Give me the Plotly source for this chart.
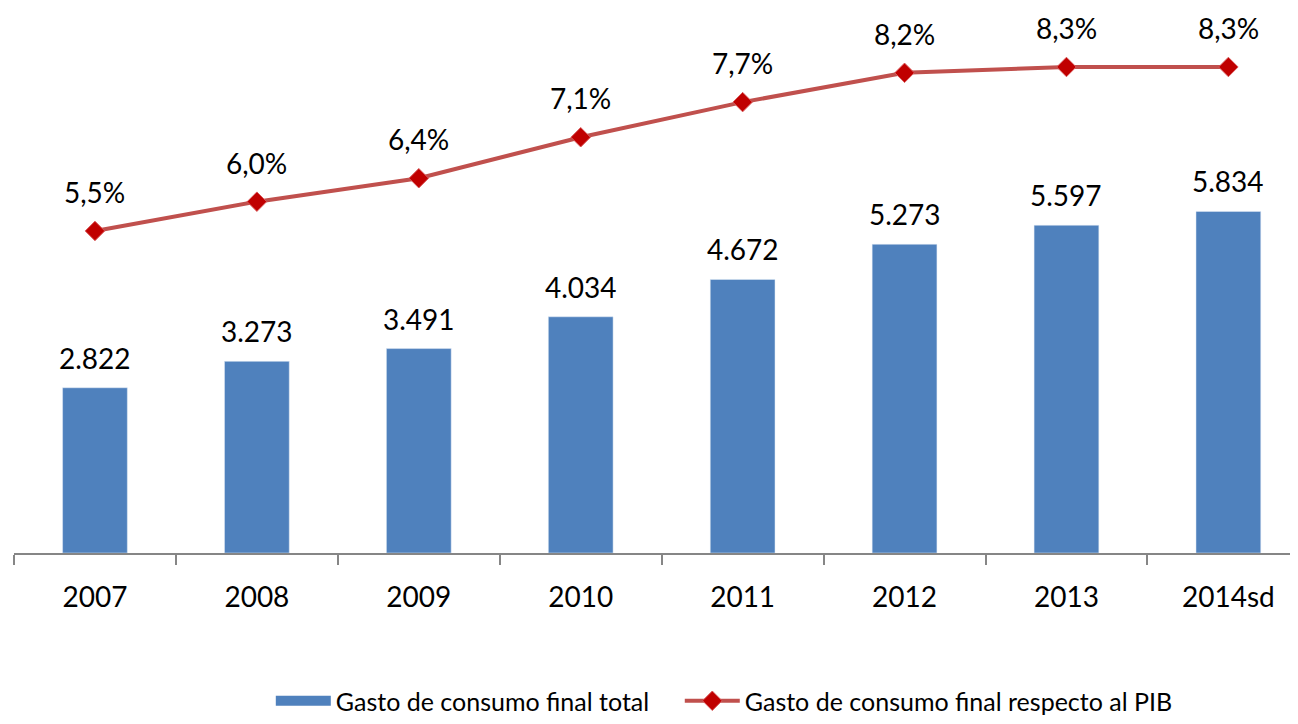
import plotly.graph_objects as go

years = ["2007", "2008", "2009", "2010", "2011", "2012", "2013", "2014sd"]
gasto_total = [2822, 3273, 3491, 4034, 4672, 5273, 5597, 5834]
gasto_pib = [5.5, 6.0, 6.4, 7.1, 7.7, 8.2, 8.3, 8.3]

bar_labels = [f"{v:,}".replace(",", ".") for v in gasto_total]
pib_labels = [f"{v:.1f}%".replace(".", ",") for v in gasto_pib]

font_name = "Lato, Open Sans, sans-serif"
blue = "#4F81BD"
red = "#C0504D"

fig = go.Figure()
fig.add_trace(go.Bar(
    x=years, y=gasto_total, name="Gasto de consumo final total",
    marker=dict(color=blue), width=0.4, showlegend=False,
))
# legend entry drawn as a wide block, like the original (nbsp = gap to next entry)
fig.add_trace(go.Scatter(
    x=[None], y=[None], name="Gasto de consumo final total" + "\u00a0" * 4, mode="lines",
    line=dict(color=blue, width=16),
))
fig.add_trace(go.Scatter(
    x=years, y=gasto_pib, name="Gasto de consumo final respecto al PIB",
    yaxis="y2", mode="lines+markers",
    line=dict(color=red, width=4),
    marker=dict(symbol="diamond", size=15, color="#C00000",
                line=dict(color="#D9595A", width=1)),
))

annotations = []
for i, (v, t) in enumerate(zip(gasto_total, bar_labels)):
    annotations.append(dict(x=i, y=v, xref="x", yref="y", text=t, showarrow=False,
                            yanchor="middle", yshift=30,
                            font=dict(size=28, color="black", family=font_name)))
for i, (v, t) in enumerate(zip(gasto_pib, pib_labels)):
    annotations.append(dict(x=i, y=v, xref="x", yref="y2", text=t, showarrow=False,
                            yanchor="middle", yshift=39,
                            font=dict(size=28, color="black", family=font_name)))

fig.update_layout(
    width=1290, height=716,
    margin=dict(l=6, r=0, t=18, b=171),
    plot_bgcolor="white", paper_bgcolor="white",
    font=dict(family=font_name, color="black"),
    xaxis=dict(
        type="category", range=[-0.5, 7.43],
        showline=True, linecolor="#868686", linewidth=2,
        ticks="outside", tickson="boundaries", ticklen=10, tickcolor="#868686", tickwidth=2,
        tickfont=dict(size=28, color="black"), ticklabelstandoff=18,
        showgrid=False,
    ),
    yaxis=dict(range=[0, 9000], visible=False, showgrid=False),
    yaxis2=dict(range=[0, 9], visible=False, overlaying="y", side="right", showgrid=False),
    legend=dict(orientation="h", x=0.2, xanchor="left", yref="container", y=0, yanchor="bottom",
                font=dict(size=25, color="black"), itemwidth=55),
    annotations=annotations,
)

fig.write_html("out.html")
